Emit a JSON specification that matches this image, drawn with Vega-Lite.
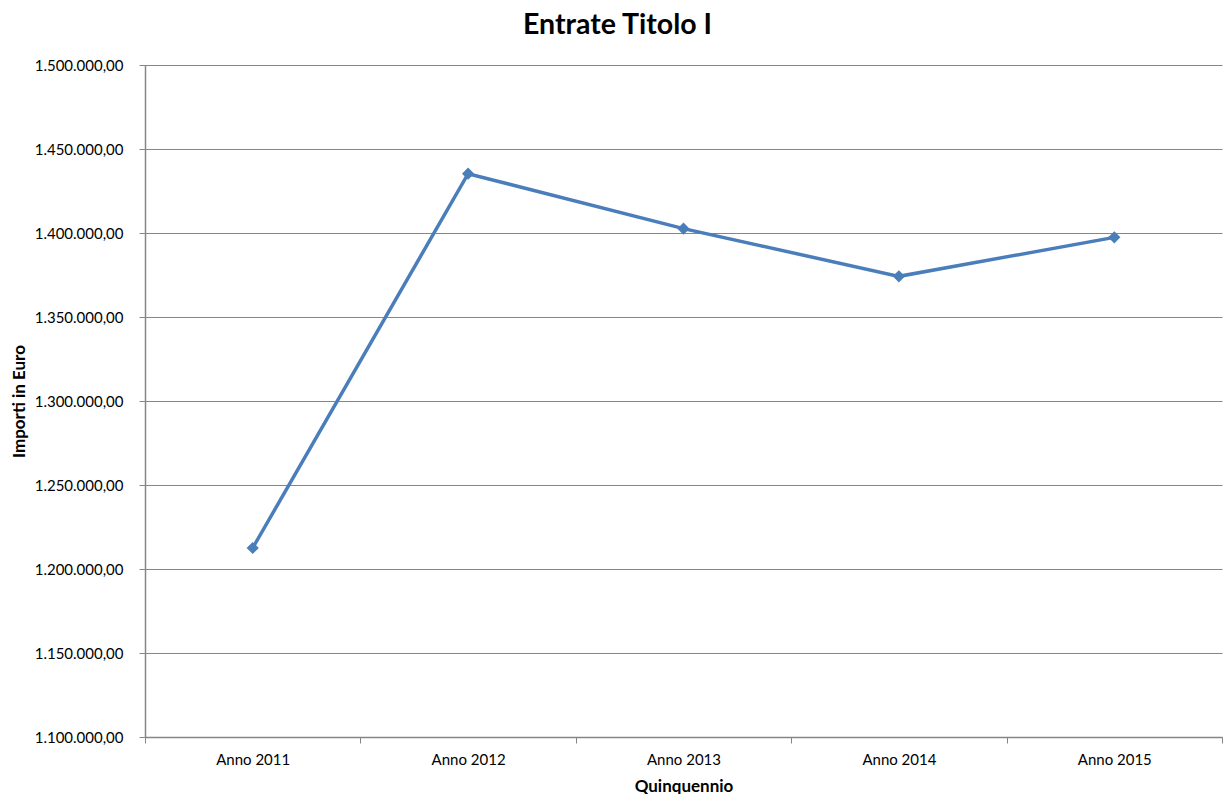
{
  "$schema": "https://vega.github.io/schema/vega-lite/v6.json",
  "width": 1077,
  "height": 672,
  "autosize": {"type": "none"},
  "padding": {"left": 145, "top": 65, "right": 1, "bottom": 57},
  "background": "white",
  "title": {
    "text": "Entrate Titolo I",
    "font": "Lato",
    "fontSize": 28.5,
    "fontWeight": "bold",
    "color": "#000000",
    "anchor": "middle",
    "dx": -66,
    "baseline": "alphabetic",
    "offset": -4
  },
  "data": {
    "values": [
      {"anno": "Anno 2011", "importo": 1212500},
      {"anno": "Anno 2012", "importo": 1435300},
      {"anno": "Anno 2013", "importo": 1402600},
      {"anno": "Anno 2014", "importo": 1374200},
      {"anno": "Anno 2015", "importo": 1397400}
    ]
  },
  "mark": {
    "type": "line",
    "color": "#4A7EBB",
    "strokeWidth": 3.5,
    "point": {"shape": "diamond", "size": 150, "filled": true, "color": "#4A7EBB", "opacity": 1}
  },
  "encoding": {
    "x": {
      "field": "anno",
      "type": "ordinal",
      "title": "Quinquennio",
      "scale": {"paddingInner": 0, "paddingOuter": 0},
      "axis": {
        "labelAngle": 0,
        "tickBand": "extent",
        "labelPadding": 9,
        "titlePadding": 11
      }
    },
    "y": {
      "field": "importo",
      "type": "quantitative",
      "title": "Importi in Euro",
      "scale": {"domain": [1100000, 1500000], "nice": false, "zero": false},
      "axis": {
        "format": ",.2f",
        "values": [1100000, 1150000, 1200000, 1250000, 1300000, 1350000, 1400000, 1450000, 1500000],
        "labelPadding": 16,
        "titlePadding": 6
      }
    }
  },
  "config": {
    "locale": {
      "number": {"decimal": ",", "thousands": ".", "grouping": [3], "currency": ["€", ""]}
    },
    "view": {"stroke": null},
    "axis": {
      "labelFont": "Lato",
      "labelFontSize": 15,
      "labelColor": "#000000",
      "titleFont": "Lato",
      "titleFontSize": 17,
      "titleFontWeight": "bold",
      "titleColor": "#000000",
      "domainColor": "#868686",
      "domainWidth": 1.5,
      "tickColor": "#868686",
      "tickSize": 6,
      "gridColor": "#868686",
      "gridWidth": 1
    },
    "axisX": {"grid": false},
    "axisY": {"grid": true}
  }
}
